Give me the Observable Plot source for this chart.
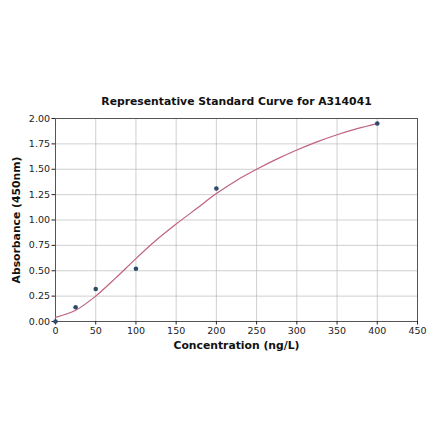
<!DOCTYPE html>
<html>
<head>
<meta charset="utf-8">
<script src="https://cdn.jsdelivr.net/npm/d3@7"></script>
<script src="https://cdn.jsdelivr.net/npm/@observablehq/plot@0.6"></script>
<style>
  body { margin: 0; background: #fff; }
  #chart svg { font-family: "DejaVu Sans", sans-serif; }
</style>
</head>
<body>
<div id="chart"></div>
<script>
// standard points
const conc = [0, 25, 50, 100, 200, 400]
const absorb = [0.0, 0.14, 0.32, 0.52, 1.31, 1.95]

// fitted curve
const curveX = [0, 25, 50, 75, 100, 125, 150, 175, 200, 225, 250, 275, 300, 325, 350, 375, 400]
const curveY = [0.04, 0.11, 0.25, 0.43, 0.62, 0.80, 0.96, 1.11, 1.26, 1.39, 1.50, 1.60, 1.69, 1.77, 1.84, 1.90, 1.95]

const xTicks = [0, 50, 100, 150, 200, 250, 300, 350, 400, 450]
const yTicks = [0, 0.25, 0.5, 0.75, 1, 1.25, 1.5, 1.75, 2]

const points = conc.map((x, i) => ({x, y: absorb[i]}))
const curve = curveX.map((x, i) => ({x, y: curveY[i]}))

let chart = Plot.plot({
  width: 440,
  height: 441,
  marginLeft: 55,
  marginRight: 23,
  marginTop: 118,
  marginBottom: 120,
  style: {fontFamily: "DejaVu Sans, sans-serif", fontSize: "9px", color: "#222"},
  x: {domain: [0, 450]},
  y: {domain: [0, 2]},
  marks: [
    Plot.gridX(xTicks, {stroke: "#b0b0b0", strokeOpacity: 0.6}),
    Plot.gridY(yTicks, {stroke: "#b0b0b0", strokeOpacity: 0.6}),
    Plot.frame({stroke: "#555"}),
    Plot.axisX(xTicks, {tickSize: 3.5, tickPadding: 2, fontSize: 9.5, label: null}),
    Plot.axisY(yTicks, {tickSize: 3.5, tickPadding: 2, fontSize: 9.5, tickFormat: d3.format(".2f"), label: null}),
    Plot.line(curve, {x: "x", y: "y", curve: "monotone-x", stroke: "#c0627f", strokeWidth: 1.2}),
    Plot.dot(points, {x: "x", y: "y", r: 2.3, fill: "#2d4a6a"}),
    Plot.text(["Representative Standard Curve for A314041"], {frameAnchor: "top", dy: -21, fontWeight: "bold", fontSize: 10.8, fill: "#111"}),
    Plot.text(["Concentration (ng/L)"], {frameAnchor: "bottom", dy: 27, fontWeight: "bold", fontSize: 10.8, fill: "#111"}),
    Plot.text(["Absorbance (450nm)"], {frameAnchor: "left", textAnchor: "middle", dx: -39, rotate: -90, fontWeight: "bold", fontSize: 10.8, fill: "#111"})
  ]
})

d3.select('#chart').append(() => chart)
</script>
</body>
</html>
